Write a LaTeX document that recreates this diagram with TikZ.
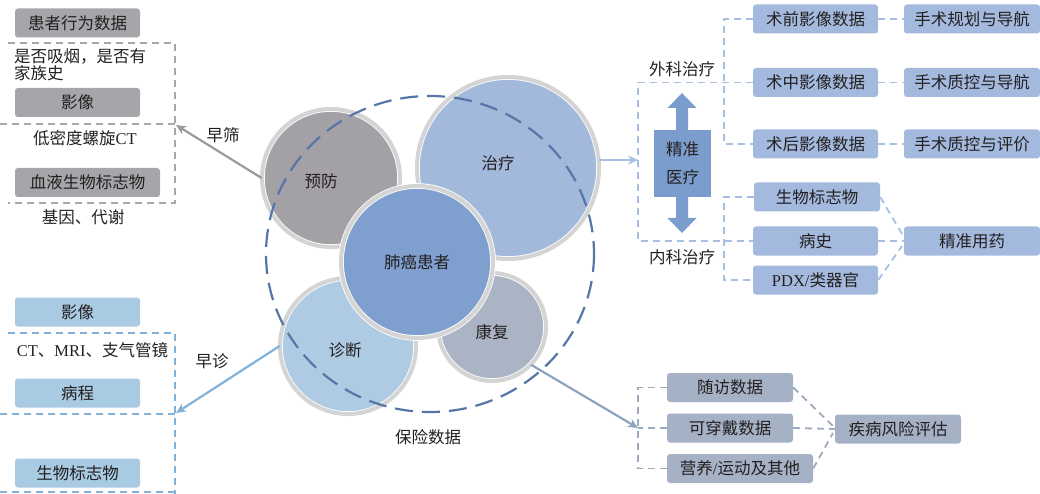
\documentclass[tikz,border=0pt]{standalone}
\usepackage{fontspec}
\setmainfont{Noto Sans CJK SC}
\newfontfamily\lat{Liberation Serif}
\usetikzlibrary{arrows.meta}
\definecolor{txt}{HTML}{231F20}
\definecolor{gboxc}{HTML}{A6A5A9}
\definecolor{gdashc}{HTML}{A8A8A8}
\definecolor{lbboxc}{HTML}{A8CAE3}
\definecolor{lbdashc}{HTML}{80B2DC}
\definecolor{rboxc}{HTML}{A3BADE}
\definecolor{rdashc}{HTML}{A6BFE3}
\definecolor{sboxc}{HTML}{A5B1C5}
\definecolor{sdashc}{HTML}{9EABBE}
\definecolor{sarrc}{HTML}{8FA3BD}
\definecolor{garrc}{HTML}{9A9A9A}
\definecolor{pmc}{HTML}{7B9DCD}
\definecolor{ringc}{HTML}{D4D4D4}
\definecolor{yfc}{HTML}{A3A1A6}
\definecolor{zlc}{HTML}{A3B9DB}
\definecolor{fac}{HTML}{7F9FCF}
\definecolor{zdc}{HTML}{AECBE3}
\definecolor{kfc}{HTML}{AAB4C4}
\definecolor{ringdashc}{HTML}{5676A8}
\begin{document}
\begin{tikzpicture}[x=1pt,y=-1pt,
  every node/.style={font=\fontsize{16.5}{17}\selectfont, text=txt},
  box/.style={rounded corners=3pt, inner sep=0pt, minimum height=29pt, minimum width=125pt},
  gbox/.style={box, fill=gboxc},
  lbbox/.style={box, fill=lbboxc},
  rbox/.style={box, fill=rboxc},
  sbox/.style={box, fill=sboxc},
  dashline/.style={line width=1.8pt, dash pattern=on 7pt off 5pt},
  gdash/.style={dashline, draw=gdashc},
  lbdash/.style={dashline, draw=lbdashc},
  rdash/.style={dashline, draw=rdashc},
  sdash/.style={dashline, draw=sdashc},
  arr/.style={line width=2.2pt, -{Stealth[length=10pt,width=9pt]}},
  circ/.style={circle, inner sep=0pt, draw=white, double=ringc, double distance=4pt, line width=0.8pt}
]
\useasboundingbox (0,0) rectangle (1040,494);

% ---- centre circles ----
\node[circ, fill=yfc, minimum size=138pt] (yf) at (331,178) {};
\node at (321,181) {预防};
\node[circ, fill=zlc, minimum size=182pt] (zl) at (508,168) {};
\node at (498,163) {治疗};
\node[circ, fill=zdc, minimum size=136pt] (zd) at (348,346) {};
\node at (345,350) {诊断};
\node[circ, fill=kfc, minimum size=108pt] (kf) at (492,327) {};
\node at (492,332) {康复};
\node[circ, fill=fac, minimum size=152pt] (fa) at (417,262) {肺癌患者};
\draw[ringdashc, line width=2.2pt, dash pattern=on 18pt off 9pt] (430,254) ellipse [x radius=164, y radius=158];
\node (bx) at (428,437) {保险数据};

% ---- top left (gray) ----
\node[gbox] (b1) at (77.5,23) {患者行为数据};
\node[anchor=north west, align=left, inner sep=0pt] (t1) at (14,48) {是否吸烟，是否有\\家族史};
\node[gbox] (b2) at (77.5,102.5) {影像};
\node (t2) at (85,138) {低密度螺旋{\lat CT}};
\node[gbox, minimum width=145pt] (b3) at (87.5,182.5) {血液生物标志物};
\node (t3) at (83,217) {基因、代谢};
\draw[gdash] (8,43) -- (175,43) -- (175,203) -- (8,203);
\draw[gdash] (0,124) -- (175,124);
\coordinate (gf) at (176,125);
\draw[arr, garrc] (yf.west) -- (gf);
\node (zs) at (223,135) {早筛};

% ---- bottom left (light blue) ----
\node[lbbox] (b4) at (77.5,312) {影像};
\node (t4) at (92.5,350) {{\lat CT}、{\lat MRI}、支气管镜};
\node[lbbox] (b5) at (77.5,393) {病程};
\node[lbbox] (b6) at (77.5,473) {生物标志物};
\draw[lbdash] (8,333) -- (175,333) -- (175,494);
\draw[lbdash] (0,414) -- (175,414);
\draw[lbdash] (0,492) -- (175,492);
\coordinate (zf) at (176,413);
\draw[arr, lbdashc] (zd.west) -- (zf);
\node (zz) at (212,361) {早诊};

% ---- right (precision medicine) ----
\node (wk) at (682,69) {外科治疗};
\node (nk) at (682,257) {内科治疗};
\fill[pmc] (682,93) -- (696.5,108) -- (688,108) -- (688,218) -- (696.5,218) -- (682,233)
  -- (667.5,218) -- (676,218) -- (676,108) -- (667.5,108) -- cycle;
\node[fill=pmc, inner sep=0pt, minimum width=57pt, minimum height=67pt, align=center,
  font=\fontsize{16.5}{28}\selectfont] (pm) at (682.5,163.5) {精准\\医疗};

\node[rbox] (r1) at (815.5,19) {术前影像数据};
\node[rbox] (r2) at (815.5,82.5) {术中影像数据};
\node[rbox] (r3) at (815.5,144) {术后影像数据};
\node[rbox, minimum width=126pt] (r4) at (817,197) {生物标志物};
\node[rbox] (r5) at (815.5,241) {病史};
\node[rbox] (r6) at (815.5,280) {{\lat PDX/}类器官};
\node[rbox, minimum width=136pt] (s1) at (972,19) {手术规划与导航};
\node[rbox, minimum width=136pt] (s2) at (972,82.5) {手术质控与导航};
\node[rbox, minimum width=136pt] (s3) at (972,144) {手术质控与评价};
\node[rbox, minimum width=136pt] (s4) at (972,241) {精准用药};

\coordinate (ft) at (638,0);
\coordinate (sb) at (724,0);
\draw[rdash] (r2.west) -- (r2.west -| ft) -- (r5.west -| ft) -- (r5.west);
\draw[rdash] (r1.west) -- (r1.west -| sb) -- (r3.west -| sb) -- (r3.west);
\draw[rdash] (r4.west) -- (r4.west -| sb) -- (r6.west -| sb) -- (r6.west);
\draw[rdash] (r1.east) -- (s1.west);
\draw[rdash] (r2.east) -- (s2.west);
\draw[rdash] (r3.east) -- (s3.west);
\coordinate (s4a) at (902,234);
\coordinate (s4b) at (902,246);
\draw[rdash] (r4.east) -- (s4a);
\draw[rdash] (r5.east) -- (s4.west);
\draw[rdash] (r6.east) -- (s4b);
\draw[arr, rdashc] (zl.5) -- (zl.5 -| ft);

% ---- bottom right (risk) ----
\node[sbox, minimum width=126pt] (q1) at (730,387.5) {随访数据};
\node[sbox, minimum width=126pt] (q2) at (730,428) {可穿戴数据};
\node[sbox, minimum width=146pt] (q3) at (740,468.5) {营养{\lat /}运动及其他};
\node[sbox, minimum width=126pt] (q4) at (898,429) {疾病风险评估};
\coordinate (bb) at (638,0);
\draw[sdash] (q1.west) -- (q1.west -| bb) -- (q3.west -| bb) -- (q3.west);
\draw[sdash] (q2.west) -- (q2.west -| bb);
\coordinate (q4a) at (833,426);
\coordinate (q4b) at (833,433);
\draw[sdash] (q1.east) -- (q4a);
\draw[sdash] (q2.east) -- (q4.west);
\draw[sdash] (q3.east) -- (q4b);
\draw[arr, sarrc] (kf.-44) -- (q2.west -| bb);
\end{tikzpicture}
\end{document}
